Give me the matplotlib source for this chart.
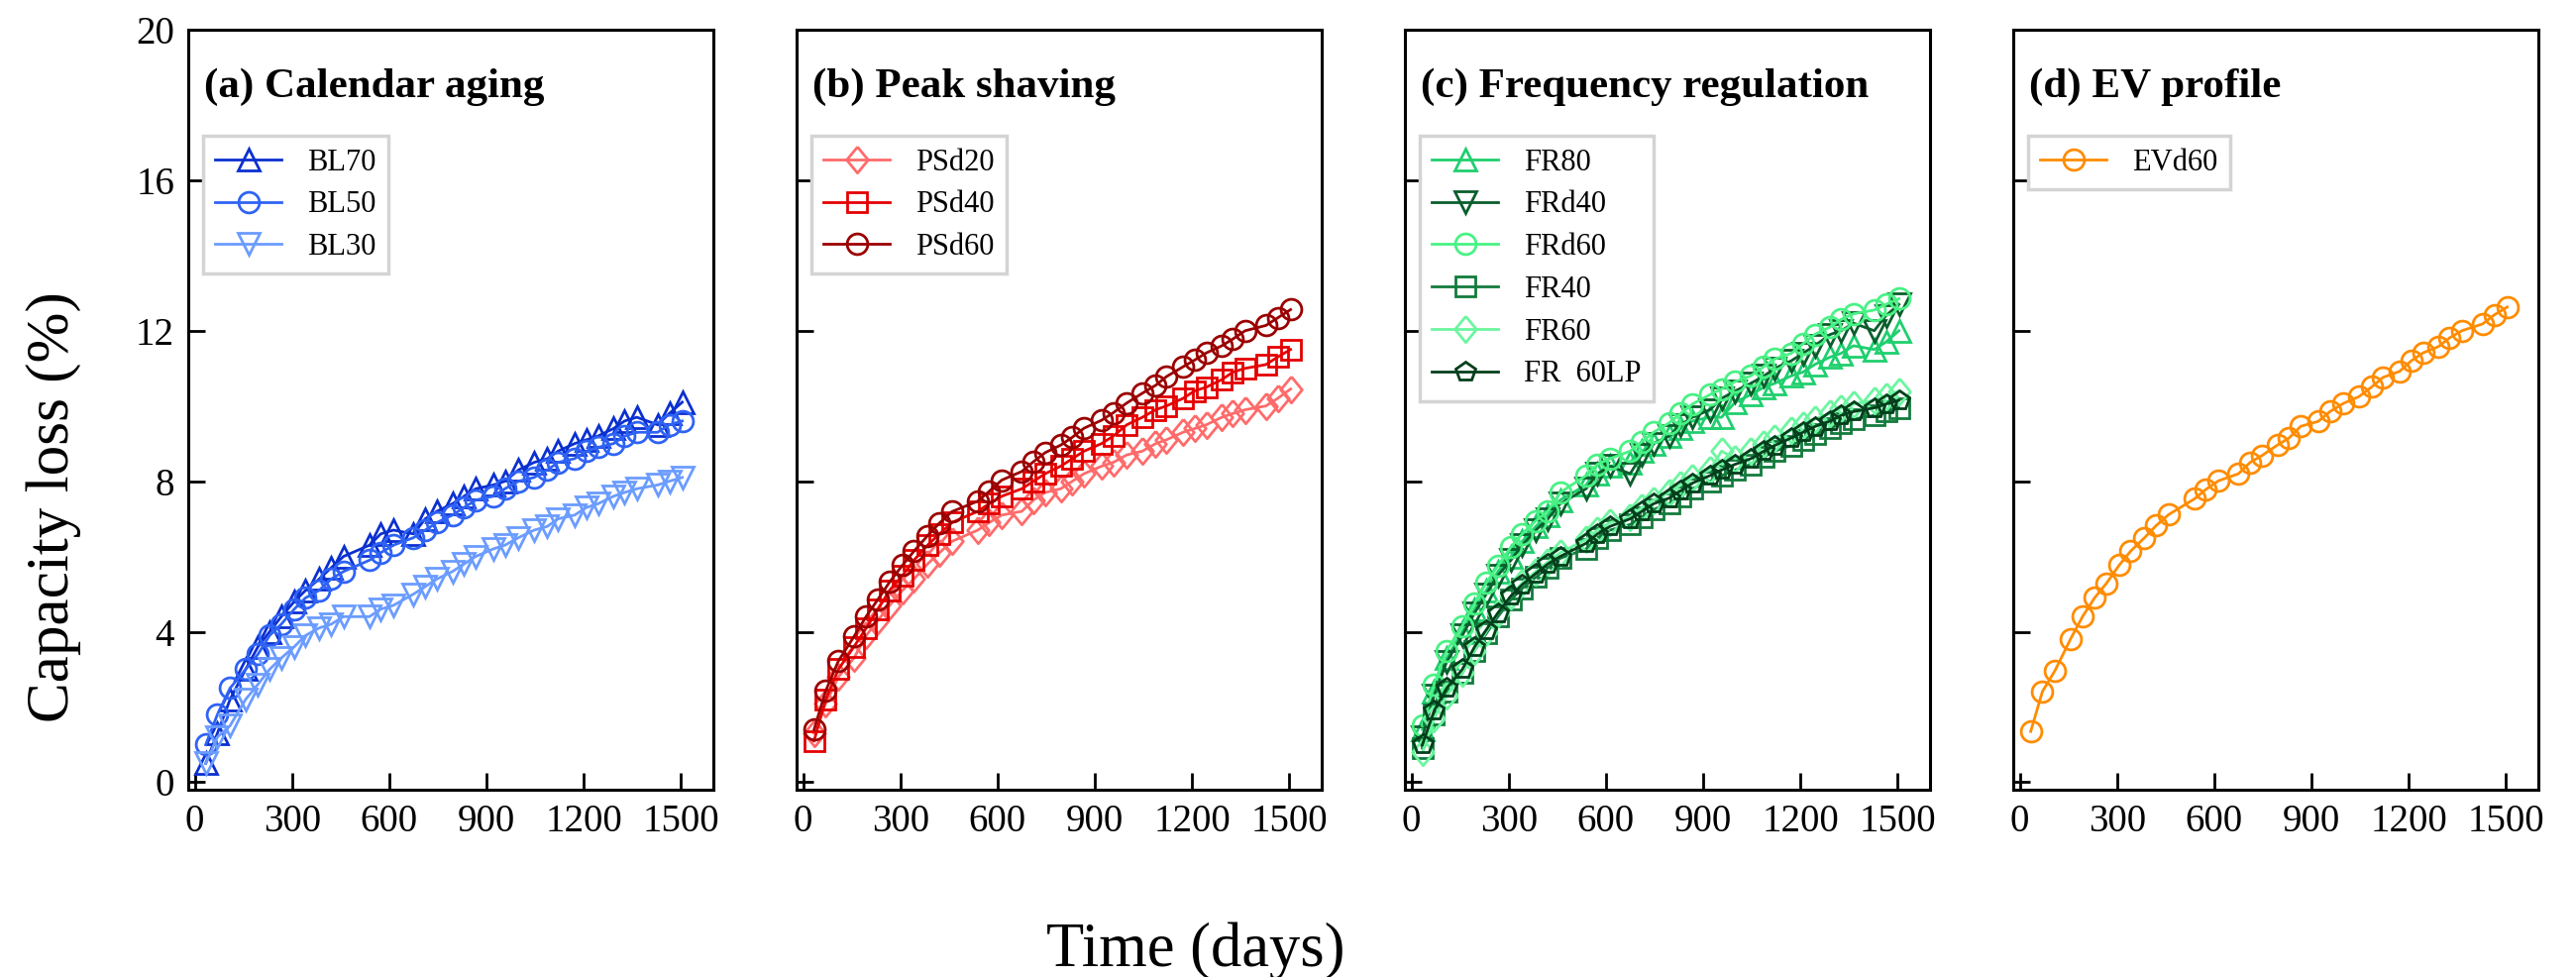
import matplotlib
matplotlib.use('Agg')
import matplotlib.pyplot as plt

# test days (same schedule for every cell)
days = [34, 70, 109, 157, 195, 231, 267, 307, 342, 384, 421, 459,
        539, 574, 613, 675, 711, 747, 795, 831, 867, 921, 957, 999,
        1047, 1088, 1121, 1172, 1208, 1244, 1292, 1326, 1364, 1428, 1464, 1504]

# (a) calendar aging
bl70 = [0.5, 1.3, 2.2, 3.0, 3.6, 4.0, 4.4, 4.8, 5.1, 5.4, 5.7, 6.0,
        6.3, 6.6, 6.7, 6.6, 7.0, 7.2, 7.4, 7.6, 7.8, 7.9, 8.0, 8.3,
        8.5, 8.6, 8.8, 9.0, 9.1, 9.2, 9.4, 9.6, 9.7, 9.5, 9.8, 10.1]
bl50 = [1.0, 1.8, 2.5, 3.0, 3.4, 3.9, 4.2, 4.6, 4.9, 5.1, 5.4, 5.6,
        5.9, 6.1, 6.3, 6.5, 6.7, 6.9, 7.1, 7.3, 7.5, 7.6, 7.8, 8.0,
        8.1, 8.3, 8.5, 8.6, 8.8, 8.9, 9.0, 9.2, 9.3, 9.3, 9.5, 9.6]
bl30 = [0.5, 1.2, 1.5, 2.2, 2.6, 3.0, 3.3, 3.6, 3.9, 4.1, 4.2, 4.4,
        4.4, 4.6, 4.7, 5.0, 5.2, 5.4, 5.6, 5.8, 6.0, 6.2, 6.3, 6.5,
        6.7, 6.8, 7.0, 7.1, 7.3, 7.4, 7.6, 7.7, 7.8, 7.9, 8.0, 8.1]

# (b) peak shaving
psd20 = [1.3, 2.1, 2.8, 3.3, 3.9, 4.3, 4.7, 5.1, 5.4, 5.8, 6.1, 6.4,
         6.7, 6.9, 7.1, 7.2, 7.5, 7.7, 7.8, 8.0, 8.2, 8.4, 8.5, 8.7,
         8.8, 9.0, 9.1, 9.3, 9.4, 9.5, 9.7, 9.8, 9.9, 10.0, 10.2, 10.45]
psd40 = [1.1, 2.2, 3.0, 3.6, 4.1, 4.6, 5.1, 5.5, 5.9, 6.3, 6.6, 6.9,
         7.2, 7.4, 7.6, 7.8, 8.0, 8.2, 8.4, 8.6, 8.8, 9.0, 9.2, 9.5,
         9.7, 9.9, 10.0, 10.2, 10.4, 10.5, 10.7, 10.9, 11.0, 11.1, 11.3, 11.5]
psd60 = [1.4, 2.43, 3.22, 3.87, 4.41, 4.86, 5.32, 5.77, 6.14, 6.55, 6.89, 7.19,
         7.47, 7.73, 8.03, 8.26, 8.52, 8.76, 8.96, 9.17, 9.41, 9.62, 9.82, 10.08,
         10.34, 10.55, 10.78, 11.04, 11.22, 11.41, 11.6, 11.78, 12.0, 12.14, 12.34, 12.56]

# (c) frequency regulation
fr80 = [1.4, 2.4, 3.3, 4.0, 4.6, 5.1, 5.6, 6.0, 6.4, 6.8, 7.1, 7.5,
        7.9, 8.2, 8.4, 8.5, 8.8, 9.0, 9.2, 9.4, 9.6, 9.7, 9.7, 10.1,
        10.3, 10.5, 10.6, 10.8, 10.9, 11.1, 11.3, 11.4, 11.6, 11.5, 11.7, 12.0]
frd40 = [1.2, 2.3, 3.2, 3.9, 4.5, 5.0, 5.5, 5.9, 6.3, 6.7, 7.0, 7.4,
         7.8, 8.2, 8.4, 8.2, 8.7, 9.0, 9.2, 9.5, 9.7, 9.9, 10.2, 10.4,
         10.6, 10.8, 11.0, 11.2, 11.4, 11.6, 11.9, 12.0, 12.2, 12.0, 12.4, 12.7]
frd60 = [1.5, 2.6, 3.5, 4.15, 4.75, 5.3, 5.75, 6.25, 6.6, 6.95, 7.2, 7.7,
         8.15, 8.45, 8.6, 8.8, 9.05, 9.3, 9.55, 9.8, 10.05, 10.3, 10.45, 10.65,
         10.8, 11.05, 11.25, 11.4, 11.65, 11.9, 12.1, 12.3, 12.45, 12.55, 12.7, 12.85]
fr40 = [0.9, 1.8, 2.4, 2.9, 3.5, 3.95, 4.4, 4.85, 5.15, 5.45, 5.7, 5.95,
        6.2, 6.5, 6.7, 6.85, 7.05, 7.25, 7.4, 7.6, 7.8, 8.0, 8.15, 8.3,
        8.45, 8.65, 8.8, 8.95, 9.1, 9.25, 9.4, 9.55, 9.65, 9.75, 9.85, 9.95]
fr60 = [0.8, 1.7, 2.3, 2.9, 3.5, 4.0, 4.5, 4.95, 5.3, 5.6, 5.85, 6.1,
        6.45, 6.7, 6.9, 7.05, 7.3, 7.5, 7.7, 7.9, 8.1, 8.3, 8.8, 8.6,
        8.8, 9.0, 9.15, 9.35, 9.5, 9.65, 9.8, 9.95, 10.05, 10.15, 10.25, 10.4]
fr60lp = [1.0, 1.9, 2.5, 3.0, 3.6, 4.05, 4.5, 4.95, 5.25, 5.55, 5.8, 6.0,
          6.35, 6.6, 6.8, 7.0, 7.2, 7.4, 7.55, 7.75, 7.95, 8.15, 8.3, 8.45,
          8.6, 8.8, 8.95, 9.15, 9.3, 9.45, 9.6, 9.75, 9.85, 9.95, 10.05, 10.15]

# (d) EV profile
evd60 = [1.35, 2.41, 2.97, 3.81, 4.42, 4.90, 5.28, 5.77, 6.14, 6.49, 6.82, 7.11,
         7.53, 7.78, 8.01, 8.20, 8.50, 8.68, 8.96, 9.15, 9.46, 9.59, 9.85, 10.07,
         10.25, 10.52, 10.76, 10.92, 11.20, 11.41, 11.58, 11.81, 12.0, 12.18, 12.42, 12.63]

titles = ['(a) Calendar aging', '(b) Peak shaving',
          '(c) Frequency regulation', '(d) EV profile']

# slightly tall diamond like the original
diamond = [(0, 1), (0.82, 0), (0, -1), (-0.82, 0), (0, 1)]

panels = [
    [('BL70', bl70, '^', '#0b30d0'),
     ('BL50', bl50, 'o', '#2f63f5'),
     ('BL30', bl30, 'v', '#6b9cff')],
    [('PSd20', psd20, diamond, '#ff6b6b'),
     ('PSd40', psd40, 's', '#e50000'),
     ('PSd60', psd60, 'o', '#9b0000')],
    [('FR80', fr80, '^', '#1fcf6e'),
     ('FRd40', frd40, 'v', '#0b5e2c'),
     ('FRd60', frd60, 'o', '#48f284'),
     ('FR40', fr40, 's', '#137b3c'),
     ('FR60', fr60, diamond, '#6cf6a0'),
     ('FR  60LP', fr60lp, 'p', '#033f1b')],
    [('EVd60', evd60, 'o', '#ff8c00')],
]

sizes = {'^': 16, 'v': 16, 'o': 15, 's': 14, 'p': 15}

plt.rcParams['font.family'] = ['Liberation Serif', 'DejaVu Serif']

fig = plt.figure(figsize=(26, 9.86), dpi=100)

lefts = [190, 804, 1418, 2032]
W, H = 2600.0, 986.0

for i, series in enumerate(panels):
    ax = fig.add_axes([lefts[i] / W, 1 - 797 / H, 530 / W, 767 / H])

    for name, vals, mk, col in series:
        ms = sizes.get(mk, 19) if isinstance(mk, str) else 19
        ax.plot(days, vals, marker=mk, color=col, markerfacecolor='none',
                markeredgecolor=col, markersize=ms, markeredgewidth=2,
                linewidth=2, label=name)

    ax.set_xlim(-20, 1600)
    ax.set_ylim(-0.2, 20)
    ax.set_xticks([0, 300, 600, 900, 1200, 1500])
    ax.set_yticks([0, 4, 8, 12, 16, 20])
    ax.tick_params(direction='in', length=12, width=2, labelsize=28, pad=10)
    if i > 0:
        ax.set_yticklabels([])
    for sp in ax.spines.values():
        sp.set_linewidth(2.2)

    ax.text(0.03, 0.925, titles[i], transform=ax.transAxes, fontsize=31,
            fontweight='bold', va='center', ha='left')

    leg = ax.legend(loc='upper left', bbox_to_anchor=(0.028, 0.86),
                    borderaxespad=0, fontsize=22, handlelength=2.2,
                    handletextpad=0.85, labelspacing=0.45, borderpad=0.4,
                    fancybox=False, framealpha=1)
    leg.get_frame().set_edgecolor('#d4d4d4')
    leg.get_frame().set_linewidth(2.5)

fig.text(54 / W, 1 - 512 / H, 'Capacity loss (%)', rotation=90,
         fontsize=44, ha='center', va='center')
fig.text(1207 / W, 1 - 975 / H, 'Time (days)', fontsize=45,
         ha='center', va='baseline')

fig.savefig('out.png', dpi=100)
